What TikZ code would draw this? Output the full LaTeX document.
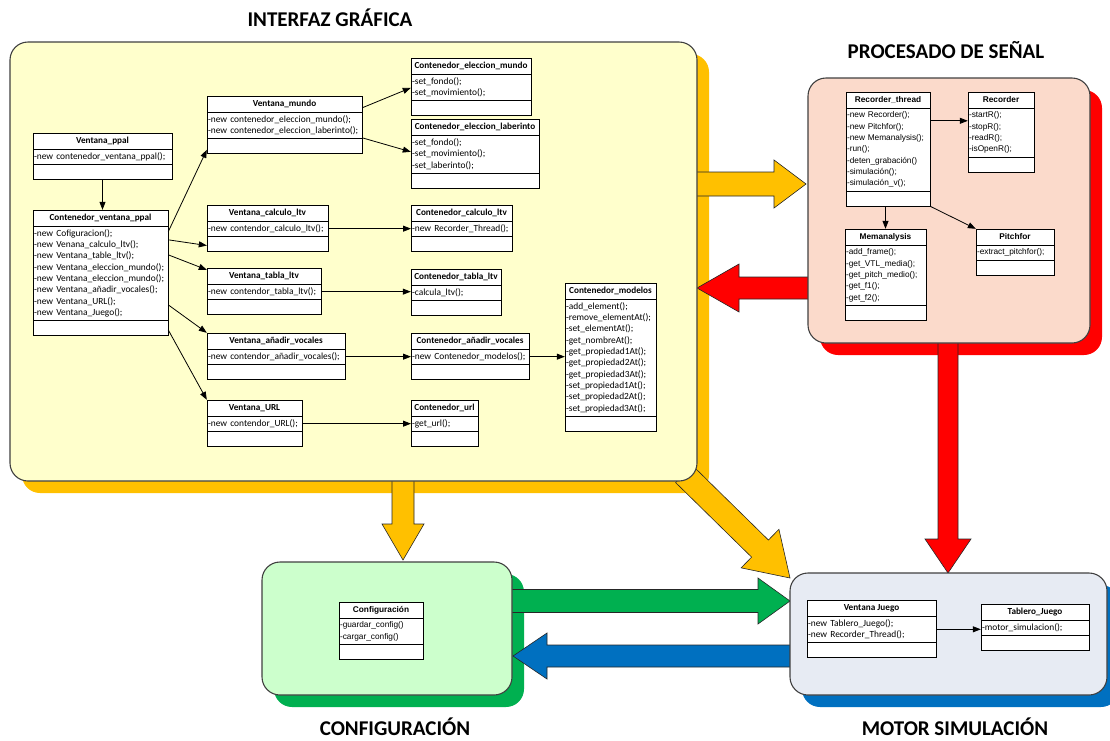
\documentclass[tikz,border=0pt]{standalone}
\usepackage{fontspec}
\setmainfont{Carlito}
\newfontfamily\arialfam{Liberation Sans}
\usetikzlibrary{calc,fit,arrows.meta}

\definecolor{guiFill}{HTML}{FFFFCC}
\definecolor{guiShade}{HTML}{FFC000}
\definecolor{dspFill}{HTML}{FBDACB}
\definecolor{dspShade}{HTML}{FF0000}
\definecolor{cfgFill}{HTML}{CCFFCC}
\definecolor{cfgShade}{HTML}{00B050}
\definecolor{simFill}{HTML}{E7EBF3}
\definecolor{simShade}{HTML}{0070C0}

% rounded panel with a coloured offset shadow: x1,y1,x2,y2,fill,shadow
\newcommand{\panelshadow}[6]{%
  \fill[#6, rounded corners=18pt] (#1+12,#2+12) rectangle (#3+12,#4+12);}
\newcommand{\panelbody}[6]{%
  \filldraw[fill=#5, draw=black!75, line width=1.1pt, rounded corners=18pt] (#1,#2) rectangle (#3,#4);}

% block arrow: tail x,y; tip x,y; shaft width; head width; head length; fill
\newcommand{\blockarrow}[8]{%
  \pgfmathsetmacro\bax{#3-#1}\pgfmathsetmacro\bay{#4-#2}%
  \pgfmathsetmacro\baang{atan2(-\bay,\bax)}%
  \pgfmathsetmacro\balen{veclen(\bax,\bay)}%
  \pgfmathsetmacro\babase{\balen-#7}%
  \filldraw[fill=#8, draw=black!85, line width=0.6pt, line join=miter, shift={(#1,#2)}, rotate=\baang]
    (0,-#5/2) -- (\babase,-#5/2) -- (\babase,-#6/2) -- (\balen,0) -- (\babase,#6/2) -- (\babase,#5/2) -- (0,#5/2) -- cycle;}

% UML class box: [font], name, left x, top y, width, title, method lines, methods
\newcommand{\umlclass}[8][]{%
  \pgfmathsetmacro\umlmh{#7*11.3+4}%
  \pgfmathsetmacro\umltw{#5-2}%
  \node[umlhead, #1, minimum width=#5pt, minimum height=16pt] (#2-t) at (#3,#4) {\bfseries #6};
  \node[umltext, #1, text width=\umltw pt, minimum height=\umlmh pt] (#2-m) at (#2-t.south west) {#8};
  \node[umlpart, minimum width=#5pt, minimum height=15pt] (#2-e) at (#2-m.south west) {};
  \node[fit=(#2-t)(#2-e), inner sep=0pt] (#2) {};}

\tikzset{
  umlpart/.style={draw=black, fill=white, line width=0.8pt, inner sep=0pt, outer sep=0pt, anchor=north west},
  umlhead/.style={umlpart, font=\fontsize{9.2}{10}\selectfont},
  umltext/.style={umlpart, inner xsep=1pt, inner ysep=1pt, font=\fontsize{9.4}{11.3}\selectfont, align=left},
  arialbox/.style={font=\arialfam\fontsize{8.3}{11.3}\selectfont},
  link/.style={-{Triangle[length=8pt,width=6pt]}, line width=0.8pt},
  section/.style={font=\fontsize{21}{24}\selectfont\bfseries},
}

\begin{document}
\begin{tikzpicture}[x=1pt,y=-1pt]
\useasboundingbox (0,0) rectangle (1110,740);

% ---- shadows of the four panels
\panelshadow{10}{42}{697}{481}{guiFill}{guiShade}
\panelshadow{808}{78}{1090}{343}{dspFill}{dspShade}
\panelshadow{262}{562}{512}{695}{cfgFill}{cfgShade}
\panelshadow{790}{573}{1107}{695}{simFill}{simShade}

% ---- block arrows between the panels
\blockarrow{690}{184}{806}{184}{24}{48}{32}{guiShade}
\blockarrow{812}{288}{697}{288}{22}{48}{42}{dspShade}
\blockarrow{948}{338}{948}{573}{20}{46}{34}{dspShade}
\blockarrow{403}{476}{403}{560}{22}{42}{36}{guiShade}
\blockarrow{684}{474}{790}{578}{24}{54}{42}{guiShade}
\blockarrow{505}{601}{790}{601}{23}{46}{32}{cfgShade}
\blockarrow{795}{656}{513}{656}{22}{46}{34}{simShade}

% ---- panels
\panelbody{10}{42}{697}{481}{guiFill}{guiShade}
\panelbody{808}{78}{1090}{343}{dspFill}{dspShade}
\panelbody{262}{562}{512}{695}{cfgFill}{cfgShade}
\panelbody{790}{573}{1107}{695}{simFill}{simShade}

% ---- panel titles
\node[section] (tgui) at (330,18) {INTERFAZ GRÁFICA};
\node[section] (tdsp) at (946,50) {PROCESADO DE SEÑAL};
\node[section] (tcfg) at (395,727) {CONFIGURACIÓN};
\node[section] (tsim) at (955,727) {MOTOR SIMULACIÓN};

% ---- graphical interface classes
\umlclass{vp}{33}{133}{139}{Ventana\_ppal}{1}{-new contenedor\_ventana\_ppal();}
\umlclass{cvp}{33}{210}{135}{Contenedor\_ventana\_ppal}{8}{-new Cofiguracion();\\-new Venana\_calculo\_ltv();\\-new Ventana\_table\_ltv();\\-new Ventana\_eleccion\_mundo();\\-new Ventana\_eleccion\_mundo();\\-new Ventana\_añadir\_vocales();\\-new Ventana\_URL();\\-new Ventana\_Juego();}
\umlclass{vm}{207}{96}{155}{Ventana\_mundo}{2}{-new contenedor\_eleccion\_mundo();\\-new contenedor\_eleccion\_laberinto();}
\umlclass{cem}{411}{58}{120}{Contenedor\_eleccion\_mundo}{2}{-set\_fondo();\\-set\_movimiento();}
\umlclass{cel}{411}{119}{128}{Contenedor\_eleccion\_laberinto}{3}{-set\_fondo();\\-set\_movimiento();\\-set\_laberinto();}
\umlclass{vcl}{207}{205}{121}{Ventana\_calculo\_ltv}{1}{-new contendor\_calculo\_ltv();}
\umlclass{ccl}{411}{205}{101}{Contenedor\_calculo\_ltv}{1}{-new Recorder\_Thread();}
\umlclass{vtl}{207}{268}{114}{Ventana\_tabla\_ltv}{1}{-new contendor\_tabla\_ltv();}
\umlclass{ctl}{411}{269}{90}{Contenedor\_tabla\_ltv}{1}{-calcula\_ltv();}
\umlclass{vav}{207}{333}{138}{Ventana\_añadir\_vocales}{1}{-new contendor\_añadir\_vocales();}
\umlclass{cav}{411}{333}{118}{Contenedor\_añadir\_vocales}{1}{-new Contenedor\_modelos();}
\umlclass{vurl}{207}{400}{95}{Ventana\_URL}{1}{-new contendor\_URL();}
\umlclass{curl}{411}{400}{67}{Contenedor\_url}{1}{-get\_url();}
\umlclass{cmod}{565}{283}{91}{Contenedor\_modelos}{10}{-add\_element();\\-remove\_elementAt();\\-set\_elementAt();\\-get\_nombreAt();\\-get\_propiedad1At();\\-get\_propiedad2At();\\-get\_propiedad3At();\\-set\_propiedad1At();\\-set\_propiedad2At();\\-set\_propiedad3At();}

% ---- signal processing classes
\umlclass[arialbox]{rt}{846}{92}{84}{Recorder\_thread}{7}{-new Recorder();\\-new Pitchfor();\\-new Memanalysis();\\-run();\\-deten\_grabación()\\-simulación();\\-simulación\_v();}
\umlclass[arialbox]{rec}{968}{92}{66}{Recorder}{4}{-startR();\\-stopR();\\-readR();\\-isOpenR();}
\umlclass[arialbox]{mem}{845}{229}{81}{Memanalysis}{5}{-add\_frame();\\-get\_VTL\_media();\\-get\_pitch\_medio();\\-get\_f1();\\-get\_f2();}
\umlclass[arialbox]{pf}{976}{229}{78}{Pitchfor}{1}{-extract\_pitchfor();}

% ---- configuration and simulation classes
\umlclass[arialbox]{cfg}{339}{602}{84}{Configuración}{2}{-guardar\_config()\\-cargar\_config()}
\umlclass{vj}{807}{600}{129}{Ventana Juego}{2}{-new Tablero\_Juego();\\-new Recorder\_Thread();}
\umlclass{tj}{981}{604}{108}{Tablero\_Juego}{1}{-motor\_simulacion();}

% ---- associations
\draw[link] (vp.south) -- (vp.south |- cvp.north);
\draw[link] ([yshift=-22pt]cvp.north east) -- ([yshift=4pt]vm.south west);
\draw[link] ([yshift=-30pt]cvp.north east) -- ([yshift=6pt]vcl.south west);
\draw[link] ([yshift=-45pt]cvp.north east) -- ([yshift=-2pt]vtl.north west);
\draw[link] ([yshift=-95pt]cvp.north east) -- (vav.north west);
\draw[link] ([yshift=-120pt]cvp.north east) -- (vurl.north west);
\draw[link] ([yshift=-12pt]vm.north east) -- ([yshift=-30pt]cem.north west);
\draw[link] ([yshift=-42pt]vm.north east) -- ([yshift=-33pt]cel.north west);
\draw[link] (vcl-m.east) -- (ccl-m.west);
\draw[link] (vtl-m.east) -- (vtl-m.east -| ctl.west);
\draw[link] (vav-m.east) -- (cav-m.west);
\draw[link] (cav-m.east) -- (cav-m.east -| cmod.west);
\draw[link] (vurl-m.east) -- (curl-m.west);
\draw[link] ([yshift=-29pt]rt.north east) -- ([yshift=-29pt]rt.north east -| rec.west);
\draw[link] (mem.north |- rt.south) -- (mem.north);
\draw[link] (rt.south east) -- (pf.north west);
\draw[link] (vj-m.east) -- (vj-m.east -| tj.west);
\end{tikzpicture}
\end{document}
